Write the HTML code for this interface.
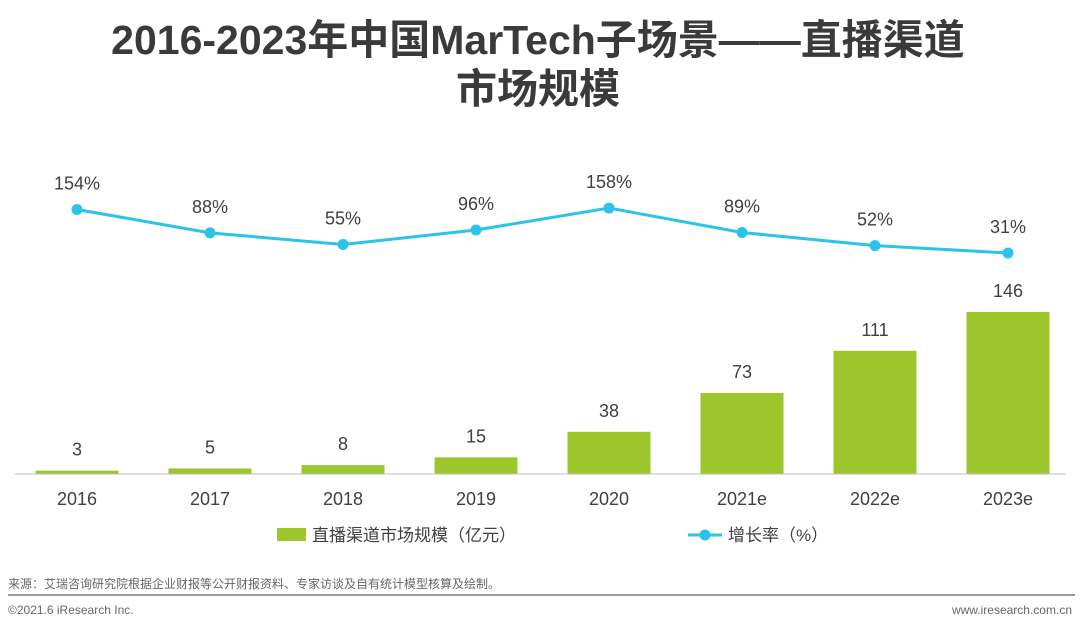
<!DOCTYPE html>
<html><head><meta charset="utf-8"><style>
body{margin:0;width:1080px;height:630px;background:#fff;overflow:hidden;font-family:"Liberation Sans","Noto Sans CJK SC",sans-serif}
</style></head><body>
<svg width="1080" height="630" xmlns="http://www.w3.org/2000/svg">
<g font-family="Liberation Sans, Noto Sans CJK SC, sans-serif" fill="#3a3a3a" font-weight="bold" font-size="41" text-anchor="middle">
<text x="538" y="54">2016-2023年中国MarTech子场景——直播渠道</text>
<text x="538" y="103">市场规模</text>
</g>
<g id="bars"></g>
<g id="line"></g>
<line x1="15" y1="474" x2="1066" y2="474" stroke="#bfbfbf" stroke-width="1"/>
<g id="xlabels"></g>
<g font-family="Liberation Sans, Noto Sans CJK SC, sans-serif" font-size="17" fill="#404040">
<rect x="277" y="528" width="29" height="13" fill="#9dc62d"/>
<text x="312" y="541">直播渠道市场规模（亿元）</text>
<line x1="688" y1="535" x2="722" y2="535" stroke="#2bc3ea" stroke-width="3"/>
<circle cx="705" cy="535" r="5.5" fill="#2bc3ea"/>
<text x="728" y="541">增长率（%）</text>
</g>
<text x="8" y="588" font-size="12" fill="#666">来源：艾瑞咨询研究院根据企业财报等公开财报资料、专家访谈及自有统计模型核算及绘制。</text>
<line x1="8" y1="595" x2="1075" y2="595" stroke="#999" stroke-width="2"/>
<text x="8" y="614" font-size="12" fill="#666">©2021.6 iResearch Inc.</text>
<text x="1072" y="614" font-size="12" fill="#666" text-anchor="end">www.iresearch.com.cn</text>
</svg>
<script>
const categories=["2016","2017","2018","2019","2020","2021e","2022e","2023e"];
const marketSize=[3,5,8,15,38,73,111,146];
const growthRate=[154,88,55,96,158,89,52,31];
const NS="http://www.w3.org/2000/svg";
function xPos(i){return 77+i*133;}
function yBar(v){return 474-v*1.11;}
function yLine(v){return 264-v*0.354;}
function mk(tag,attrs,parent){const e=document.createElementNS(NS,tag);for(const k in attrs)e.setAttribute(k,attrs[k]);parent.appendChild(e);return e;}
const bars=document.getElementById('bars'),line=document.getElementById('line'),xl=document.getElementById('xlabels');
const font="Liberation Sans, Noto Sans CJK SC, sans-serif";
categories.forEach((c,i)=>{
 const x=xPos(i),v=marketSize[i],y=yBar(v);
 const r=mk('rect',{x:x-41.5,y:y,width:83,height:474-y,fill:'#9dc62d'},bars);
 
 
 const t=mk('text',{x:x,y:y-15,'text-anchor':'middle','font-size':18,fill:'#404040','font-family':font},bars);
 t.textContent=v;
 
 
 const l=mk('text',{x:x,y:505,'text-anchor':'middle','font-size':18,fill:'#404040','font-family':font},xl);
 l.textContent=c;
 
 
});
const pts=growthRate.map((v,i)=>xPos(i)+','+yLine(v)).join(' ');
const pl=mk('polyline',{points:pts,fill:'none',stroke:'#2bc3ea','stroke-width':3},line);


growthRate.forEach((v,i)=>{
 const x=xPos(i),y=yLine(v);
 const c=mk('circle',{cx:x,cy:y,r:5.5,fill:'#2bc3ea'},line);
 
 
 const t=mk('text',{x:x,y:y-20,'text-anchor':'middle','font-size':18,fill:'#404040','font-family':font},line);
 t.textContent=v+'%';
 
 
});
</script>
</body></html>
